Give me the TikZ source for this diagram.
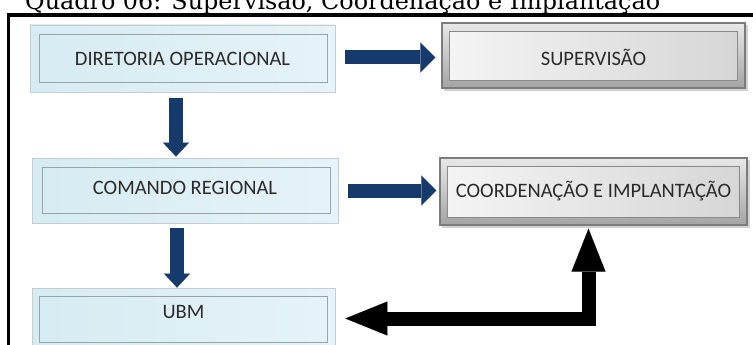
\documentclass[tikz,border=0pt]{standalone}
\usepackage{fontspec}
\setmainfont{Carlito}
\newfontfamily\titlefont{DejaVu Serif}
\usetikzlibrary{arrows.meta,calc}

\definecolor{navy}{HTML}{163A6C}
\definecolor{boxtext}{HTML}{2B2B2B}
\definecolor{bluel}{HTML}{D6EBF2}
\definecolor{bluem}{HTML}{ABD1E0}
\definecolor{bluer}{HTML}{E6F3F8}
\definecolor{blueedge}{HTML}{C2CED3}
\definecolor{blueinner}{HTML}{98A4A9}
\definecolor{grayedge}{HTML}{7C7C7C}
\definecolor{graytop}{HTML}{E8E8E8}
\definecolor{graybot}{HTML}{A4A4A4}
\definecolor{grayinl}{HTML}{F4F4F4}
\definecolor{grayinr}{HTML}{D6D6D6}
\definecolor{grayinner}{HTML}{8A8A8A}

\tikzset{
  lbl/.style={font=\fontsize{20.5}{23}\selectfont, text=boxtext},
  bluebox/.style={lbl, rectangle, draw=blueedge, line width=0.8pt,
    left color=bluel, middle color=bluem, right color=bluer, inner sep=0pt},
  graybox/.style={lbl, rectangle, draw=grayedge, line width=1.4pt,
    top color=graytop, bottom color=graybot, inner sep=0pt},
  blueinset/.style={draw=blueinner, line width=0.8pt},
  grayinset/.style={draw=grayinner, line width=0.9pt, left color=grayinl, right color=grayinr},
  grayshadow/.style={fill=black!35, opacity=0.5},
  navyarrow/.style={draw=navy, line width=14pt,
    -{Triangle[length=15pt,width=30pt,line width=0.1pt]}},
  navydown/.style={draw=navy, line width=14pt,
    -{Triangle[length=14pt,width=26pt,line width=0.1pt]}},
  blackarrow/.style={draw=black, line width=14pt, line join=miter,
    {Triangle[length=43pt,width=34pt,line width=0.1pt]}-{Triangle[length=42pt,width=34pt,line width=0.1pt]}},
  frameline/.style={draw=black, line width=3.3pt}
}

\begin{document}
\begin{tikzpicture}[x=1pt,y=-1pt]
\useasboundingbox (0,0) rectangle (753,345);
\clip (0,0) rectangle (753,345);

% heading and frame
\node[anchor=base west, inner sep=0pt] (title) at (25,9.5)
  {\resizebox{635pt}{!}{\titlefont Quadro 06: Supervisão, Coordenação e Implantação}};
\draw[frameline] (8.4,360) -- (8.4,15) -- (760,15);

% blue boxes on the left
\node[bluebox, minimum width=305pt, minimum height=67pt] (dir) at (182.5,58.5) {};
\draw[blueinset] ($(dir.north west)+(10,10)$) rectangle ($(dir.south east)+(-8,-10)$);
\node[lbl] at (dir.center) {DIRETORIA OPERACIONAL};

\node[bluebox, minimum width=306pt, minimum height=65pt] (cmd) at (185,190.5) {};
\draw[blueinset] ($(cmd.north west)+(11,10)$) rectangle ($(cmd.south east)+(-8,-10)$);
\node[lbl] at ([yshift=3pt]cmd.center) {COMANDO REGIONAL};

\node[bluebox, minimum width=303pt, minimum height=64pt] (ubm) at (183.5,320) {};
\draw[blueinset] ($(ubm.north west)+(8,9)$) rectangle ($(ubm.south east)+(-8,-10)$);
\node[lbl] at ([yshift=8.5pt]ubm.center) {UBM};

% gray boxes on the right
\fill[grayshadow] (444,25) rectangle (748,91);
\node[graybox, minimum width=303pt, minimum height=65pt] (sup) at (593.5,55.5) {};
\draw[grayinset] ($(sup.north west)+(8,9)$) rectangle ($(sup.south east)+(-8,-8)$);
\node[lbl] at ([yshift=-2pt]sup.center) {SUPERVISÃO};

\fill[grayshadow] (442,160) rectangle (750,228);
\node[graybox, minimum width=307pt, minimum height=67pt] (coo) at (593.5,191.5) {};
\draw[grayinset] ($(coo.north west)+(8,9)$) rectangle ($(coo.south east)+(-8,-8)$);
\node[lbl] at (coo.center) {COORDENAÇÃO E IMPLANTAÇÃO};

% navy connectors
\draw[navyarrow] ([xshift=10pt,yshift=1pt]dir.east) -- ([xshift=-6pt,yshift=1pt]dir.east -| sup.west);
\draw[navyarrow] ([xshift=10pt]cmd.east) -- ([xshift=-3pt]cmd.east -| coo.west);
\coordinate (d1s) at ($(dir.south)+(-6.5,6)$);
\coordinate (d1e) at (d1s |- cmd.north);
\draw[navydown] (d1s) -- ([yshift=1pt]d1e);
\coordinate (d2s) at ($(cmd.south)+(-8,5)$);
\coordinate (d2e) at (d2s |- ubm.north);
\draw[navydown] (d2s) -- (d2e);

% black feedback connector
\coordinate (bu) at ($(coo.south)+(-5,3)$);
\coordinate (bl) at ($(ubm.east)+(10,-1.5)$);
\draw[blackarrow] (bu) |- (bl);
\end{tikzpicture}
\end{document}
